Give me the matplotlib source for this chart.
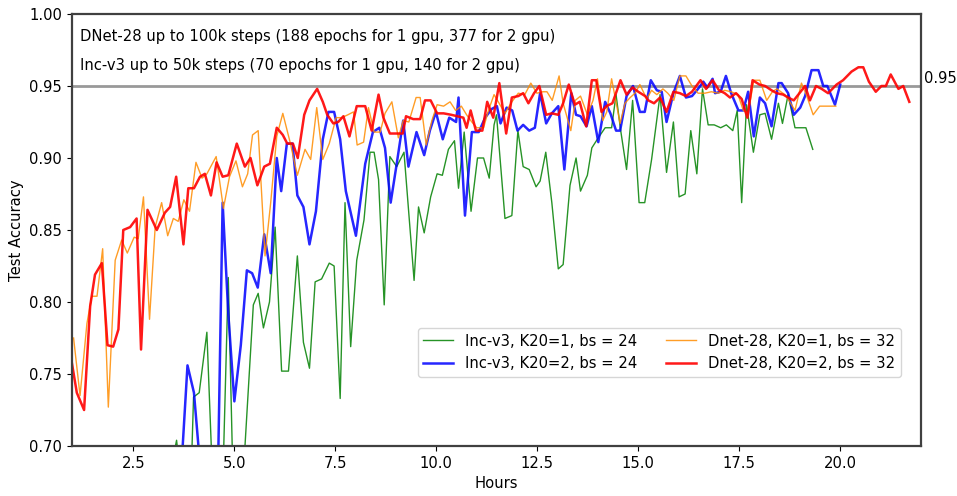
"""
Test accuracy vs. wall-clock hours, Inc-v3 and DNet-28, 1 vs 2 GPUs (K20)
"""

import matplotlib
matplotlib.use("Agg")
import matplotlib.pyplot as plt

# ── Data ─────────────────────────────────────────────────────
inc_k1_hours = [3.40, 3.57, 3.70, 3.92, 3.99, 4.13, 4.32, 4.47, 4.70, 4.85,
                4.98, 5.20, 5.47, 5.59, 5.72, 5.87, 6.01, 6.17, 6.34, 6.56,
                6.71, 6.86, 7.00, 7.16, 7.35, 7.47, 7.62, 7.74, 7.88, 8.03,
                8.21, 8.36, 8.46, 8.57, 8.71, 8.85, 9.02, 9.20, 9.45, 9.56,
                9.70, 9.86, 10.02, 10.15, 10.30, 10.45, 10.55, 10.69, 10.86, 11.02,
                11.17, 11.31, 11.43, 11.49, 11.70, 11.87, 12.02, 12.15, 12.30, 12.47,
                12.57, 12.71, 12.86, 13.02, 13.14, 13.31, 13.46, 13.57, 13.74, 13.85,
                14.01, 14.18, 14.34, 14.45, 14.56, 14.71, 14.86, 15.02, 15.16, 15.33,
                15.54, 15.70, 15.87, 16.01, 16.16, 16.30, 16.45, 16.59, 16.73, 16.88,
                17.04, 17.18, 17.34, 17.45, 17.56, 17.68, 17.85, 18.01, 18.14, 18.30,
                18.47, 18.57, 18.71, 18.88, 19.15, 19.32]
inc_k1_acc = [0.680, 0.704, 0.670, 0.670, 0.734, 0.737, 0.779, 0.670, 0.660, 0.817,
              0.660, 0.670, 0.798, 0.806, 0.782, 0.800, 0.852, 0.752, 0.752, 0.832,
              0.772, 0.754, 0.814, 0.816, 0.827, 0.825, 0.733, 0.869, 0.769, 0.829,
              0.857, 0.904, 0.904, 0.885, 0.798, 0.901, 0.894, 0.904, 0.815, 0.866,
              0.848, 0.873, 0.889, 0.888, 0.906, 0.912, 0.879, 0.918, 0.863, 0.900,
              0.900, 0.886, 0.923, 0.930, 0.858, 0.860, 0.919, 0.894, 0.892, 0.880,
              0.884, 0.904, 0.869, 0.823, 0.826, 0.881, 0.900, 0.877, 0.888, 0.907,
              0.914, 0.921, 0.921, 0.944, 0.920, 0.892, 0.940, 0.869, 0.869, 0.899,
              0.944, 0.890, 0.925, 0.873, 0.875, 0.919, 0.889, 0.948, 0.923, 0.923,
              0.921, 0.923, 0.919, 0.933, 0.869, 0.937, 0.904, 0.930, 0.931, 0.913,
              0.938, 0.924, 0.944, 0.921, 0.921, 0.906]

inc_k2_hours = [3.62, 3.70, 3.84, 4.00, 4.15, 4.35, 4.60, 4.71, 4.85, 5.00,
                5.16, 5.31, 5.44, 5.58, 5.74, 5.90, 6.05, 6.16, 6.30, 6.44,
                6.56, 6.71, 6.86, 7.02, 7.19, 7.33, 7.47, 7.62, 7.76, 8.01,
                8.24, 8.43, 8.59, 8.73, 8.87, 9.02, 9.18, 9.31, 9.51, 9.70,
                9.84, 9.99, 10.16, 10.32, 10.49, 10.55, 10.71, 10.88, 11.05, 11.21,
                11.37, 11.50, 11.59, 11.74, 11.88, 12.01, 12.15, 12.30, 12.44, 12.57,
                12.72, 12.86, 13.02, 13.17, 13.34, 13.46, 13.57, 13.72, 13.85, 14.01,
                14.18, 14.31, 14.45, 14.55, 14.71, 14.87, 15.04, 15.16, 15.31, 15.46,
                15.58, 15.70, 15.87, 16.03, 16.18, 16.33, 16.48, 16.61, 16.71, 16.84,
                16.90, 17.04, 17.17, 17.30, 17.48, 17.60, 17.72, 17.86, 18.01, 18.14,
                18.30, 18.47, 18.55, 18.71, 18.85, 19.01, 19.13, 19.29, 19.46, 19.58,
                19.68, 19.87, 20.00]
inc_k2_acc = [0.660, 0.690, 0.756, 0.737, 0.687, 0.660, 0.690, 0.869, 0.792, 0.731,
              0.770, 0.822, 0.820, 0.810, 0.847, 0.820, 0.900, 0.877, 0.910, 0.910,
              0.874, 0.866, 0.840, 0.863, 0.913, 0.932, 0.932, 0.913, 0.877, 0.846,
              0.896, 0.918, 0.921, 0.907, 0.869, 0.896, 0.926, 0.894, 0.918, 0.902,
              0.919, 0.932, 0.913, 0.928, 0.925, 0.942, 0.860, 0.918, 0.918, 0.928,
              0.934, 0.936, 0.924, 0.935, 0.933, 0.919, 0.923, 0.919, 0.921, 0.945,
              0.924, 0.931, 0.936, 0.892, 0.945, 0.930, 0.929, 0.922, 0.936, 0.911,
              0.939, 0.931, 0.919, 0.919, 0.943, 0.950, 0.932, 0.932, 0.954, 0.947,
              0.946, 0.925, 0.945, 0.957, 0.942, 0.943, 0.948, 0.953, 0.949, 0.955,
              0.945, 0.946, 0.957, 0.945, 0.933, 0.933, 0.946, 0.915, 0.942, 0.938,
              0.922, 0.952, 0.952, 0.945, 0.930, 0.935, 0.943, 0.961, 0.961, 0.950,
              0.950, 0.937, 0.951]

dnet_k1_hours = [1.02, 1.18, 1.35, 1.47, 1.60, 1.74, 1.88, 2.05, 2.21, 2.35,
                 2.52, 2.62, 2.75, 2.90, 3.04, 3.20, 3.35, 3.49, 3.61, 3.75,
                 3.89, 4.05, 4.20, 4.32, 4.55, 4.73, 4.88, 5.04, 5.20, 5.33,
                 5.45, 5.59, 5.76, 5.90, 6.05, 6.20, 6.38, 6.56, 6.75, 6.89,
                 7.04, 7.19, 7.35, 7.52, 7.66, 7.81, 7.95, 8.04, 8.20, 8.32,
                 8.46, 8.61, 8.73, 8.90, 9.06, 9.18, 9.32, 9.50, 9.60, 9.75,
                 9.89, 10.02, 10.18, 10.34, 10.48, 10.62, 10.75, 10.88, 11.00, 11.17,
                 11.29, 11.43, 11.70, 11.87, 12.03, 12.19, 12.34, 12.49, 12.64, 12.74,
                 12.87, 13.04, 13.14, 13.33, 13.44, 13.57, 13.74, 13.88, 13.99, 14.12,
                 14.22, 14.34, 14.55, 14.67, 14.80, 14.92, 15.04, 15.21, 15.33, 15.46,
                 15.61, 15.73, 15.88, 16.03, 16.18, 16.33, 16.48, 16.65, 16.81, 16.98,
                 17.14, 17.30, 17.47, 17.60, 17.72, 17.86, 18.01, 18.18, 18.32, 18.43,
                 18.63, 18.73, 18.88, 19.04, 19.16, 19.33, 19.49, 19.66, 19.89]
dnet_k1_acc = [0.775, 0.735, 0.785, 0.804, 0.804, 0.837, 0.727, 0.829, 0.843, 0.834,
               0.845, 0.844, 0.873, 0.788, 0.852, 0.869, 0.846, 0.858, 0.856, 0.871,
               0.863, 0.897, 0.886, 0.889, 0.901, 0.865, 0.887, 0.898, 0.880, 0.889,
               0.916, 0.919, 0.832, 0.869, 0.915, 0.931, 0.911, 0.888, 0.906, 0.899,
               0.935, 0.899, 0.910, 0.928, 0.928, 0.930, 0.932, 0.909, 0.911, 0.935,
               0.918, 0.918, 0.931, 0.939, 0.914, 0.926, 0.925, 0.942, 0.942, 0.909,
               0.926, 0.937, 0.936, 0.939, 0.933, 0.936, 0.930, 0.925, 0.921, 0.921,
               0.933, 0.944, 0.931, 0.939, 0.945, 0.944, 0.952, 0.945, 0.946, 0.946,
               0.940, 0.957, 0.938, 0.919, 0.940, 0.943, 0.930, 0.940, 0.955, 0.926,
               0.932, 0.955, 0.924, 0.938, 0.942, 0.945, 0.951, 0.941, 0.947, 0.944,
               0.948, 0.945, 0.940, 0.957, 0.957, 0.950, 0.945, 0.945, 0.946, 0.945,
               0.947, 0.946, 0.944, 0.933, 0.931, 0.954, 0.954, 0.940, 0.946, 0.948,
               0.944, 0.940, 0.933, 0.952, 0.944, 0.930, 0.936, 0.936, 0.936]

dnet_k2_hours = [0.97, 1.10, 1.28, 1.43, 1.55, 1.72, 1.86, 2.00, 2.13, 2.25,
                 2.42, 2.58, 2.69, 2.85, 3.08, 3.28, 3.41, 3.56, 3.74, 3.86,
                 4.00, 4.15, 4.27, 4.42, 4.56, 4.71, 4.85, 5.06, 5.26, 5.40,
                 5.57, 5.74, 5.88, 6.05, 6.20, 6.31, 6.45, 6.57, 6.73, 6.86,
                 7.05, 7.19, 7.30, 7.45, 7.57, 7.70, 7.85, 8.03, 8.24, 8.40,
                 8.57, 8.69, 8.85, 9.02, 9.17, 9.25, 9.43, 9.60, 9.72, 9.86,
                 10.02, 10.18, 10.37, 10.67, 10.75, 10.85, 10.98, 11.14, 11.26, 11.41,
                 11.56, 11.73, 11.87, 12.03, 12.15, 12.28, 12.42, 12.55, 12.72, 12.86,
                 13.02, 13.14, 13.28, 13.43, 13.55, 13.71, 13.85, 13.96, 14.09, 14.21,
                 14.36, 14.56, 14.71, 14.86, 15.00, 15.17, 15.25, 15.39, 15.54, 15.70,
                 15.87, 16.03, 16.18, 16.33, 16.54, 16.68, 16.84, 17.00, 17.14, 17.27,
                 17.42, 17.56, 17.70, 17.83, 18.00, 18.14, 18.30, 18.43, 18.59, 18.71,
                 18.85, 18.99, 19.13, 19.25, 19.40, 19.54, 19.70, 19.91, 20.07, 20.28,
                 20.45, 20.57, 20.71, 20.88, 21.02, 21.13, 21.25, 21.44, 21.56, 21.71]
dnet_k2_acc = [0.759, 0.737, 0.725, 0.797, 0.819, 0.827, 0.770, 0.769, 0.781, 0.850,
               0.852, 0.858, 0.767, 0.864, 0.850, 0.862, 0.866, 0.887, 0.840, 0.879,
               0.879, 0.887, 0.889, 0.874, 0.897, 0.887, 0.888, 0.910, 0.894, 0.900,
               0.881, 0.894, 0.896, 0.921, 0.916, 0.910, 0.910, 0.900, 0.930, 0.940,
               0.948, 0.939, 0.930, 0.924, 0.925, 0.929, 0.915, 0.936, 0.936, 0.919,
               0.944, 0.928, 0.917, 0.917, 0.917, 0.929, 0.927, 0.927, 0.940, 0.940,
               0.931, 0.931, 0.930, 0.928, 0.921, 0.933, 0.919, 0.919, 0.939, 0.928,
               0.952, 0.917, 0.942, 0.943, 0.945, 0.938, 0.945, 0.950, 0.930, 0.931,
               0.930, 0.938, 0.951, 0.937, 0.939, 0.922, 0.954, 0.954, 0.932, 0.936,
               0.938, 0.954, 0.944, 0.949, 0.946, 0.943, 0.940, 0.938, 0.942, 0.932,
               0.946, 0.945, 0.943, 0.946, 0.954, 0.948, 0.954, 0.947, 0.945, 0.942,
               0.945, 0.941, 0.928, 0.954, 0.951, 0.950, 0.947, 0.945, 0.944, 0.942,
               0.940, 0.945, 0.950, 0.940, 0.950, 0.948, 0.945, 0.951, 0.954, 0.960,
               0.963, 0.963, 0.953, 0.946, 0.950, 0.950, 0.958, 0.948, 0.950, 0.939]

labels = ["Inc-v3, K20=1, bs = 24", "Inc-v3, K20=2, bs = 24",
          "Dnet-28, K20=1, bs = 32", "Dnet-28, K20=2, bs = 32"]
notes = ["DNet-28 up to 100k steps (188 epochs for 1 gpu, 377 for 2 gpu)",
         "Inc-v3 up to 50k steps (70 epochs for 1 gpu, 140 for 2 gpu)"]
target = 0.95

FS = 10.6

# ── Plot ─────────────────────────────────────────────────────
fig = plt.figure(figsize=(9.57, 4.96), dpi=100)
ax = fig.add_axes([0.0752, 0.1008, 0.8872, 0.871])

ax.axhline(target, color="grey", lw=2, alpha=0.8, zorder=1)
ax.plot(inc_k1_hours, inc_k1_acc, color="green", lw=1.0, alpha=0.85, label=labels[0])
ax.plot(inc_k2_hours, inc_k2_acc, color="blue", lw=1.8, alpha=0.85, label=labels[1])
ax.plot(dnet_k1_hours, dnet_k1_acc, color="darkorange", lw=1.0, alpha=0.85, label=labels[2])
ax.plot(dnet_k2_hours, dnet_k2_acc, color="red", lw=1.8, alpha=0.9, label=labels[3])

ax.set_xlim(0.98, 22.0)
ax.set_ylim(0.70, 1.00)
ax.set_xticks([2.5, 5.0, 7.5, 10.0, 12.5, 15.0, 17.5, 20.0])
ax.set_xlabel("Hours", fontsize=FS)
ax.set_ylabel("Test Accuracy", fontsize=FS)
ax.tick_params(labelsize=FS)
for sp in ax.spines.values():
    sp.set_linewidth(1.6)
    sp.set_color("0.25")

ax.text(1.18, 0.9847, notes[0], fontsize=FS, va="center", ha="left")
ax.text(1.18, 0.9639, notes[1], fontsize=FS, va="center", ha="left")
ax.text(1.003, target, f"{target:.2f}", transform=ax.get_yaxis_transform(),
        fontsize=FS, va="bottom", ha="left")

ax.legend(ncol=2, fontsize=FS, loc="lower right",
          bbox_to_anchor=(0.976, 0.16), borderaxespad=0)

fig.savefig("out.png", dpi=100)
